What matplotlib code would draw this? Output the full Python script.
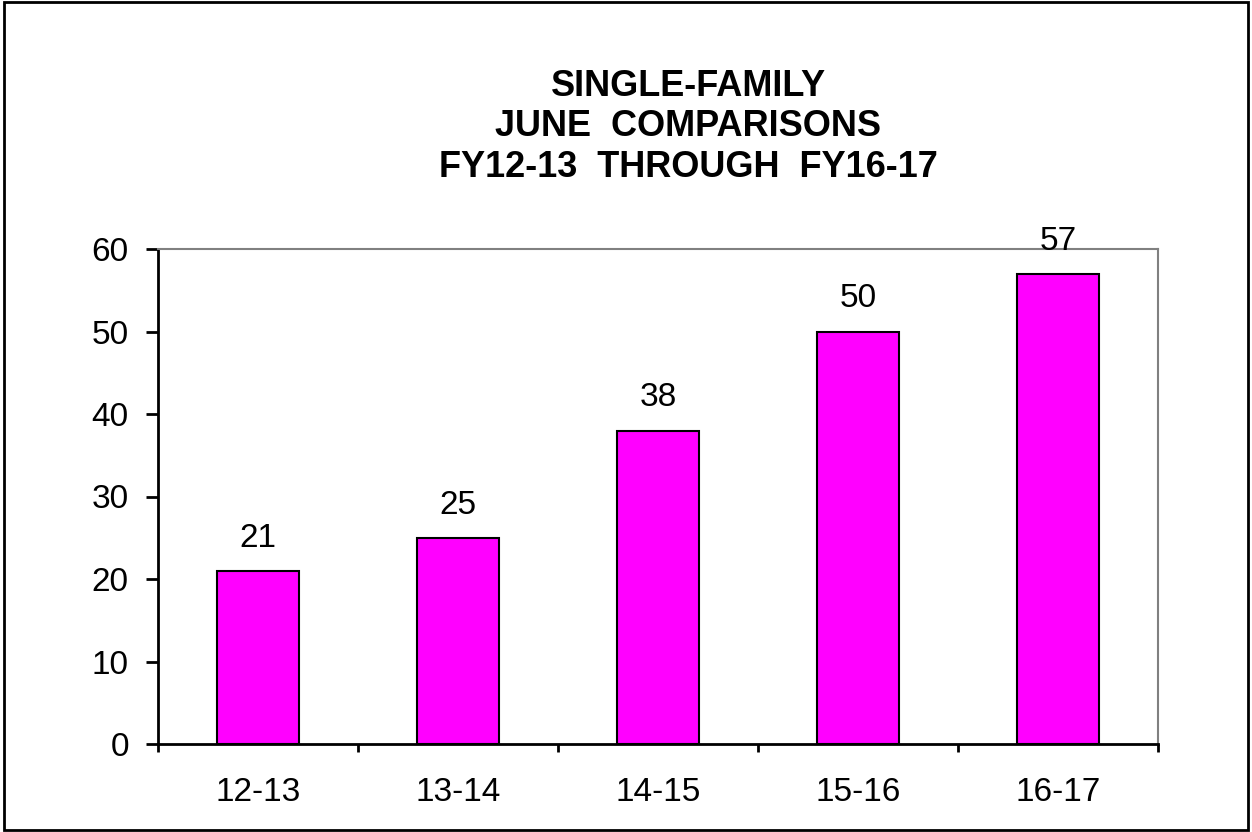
import matplotlib
matplotlib.use("Agg")
import matplotlib.pyplot as plt
from matplotlib.patches import Rectangle
import numpy as np

categories = ["12-13", "13-14", "14-15", "15-16", "16-17"]
values = [21, 25, 38, 50, 57]
title_lines = ["SINGLE-FAMILY", "JUNE  COMPARISONS", "FY12-13  THROUGH  FY16-17"]

plt.rcParams['font.family'] = ['Liberation Sans', 'DejaVu Sans']

fig = plt.figure(figsize=(12.52, 8.32), dpi=100)
ax = fig.add_axes([158/1252, 1-744/832, 1000/1252, (744-249)/832])

x = np.arange(len(categories))
ax.bar(x, values, width=0.41, color='#FF00FF', edgecolor='black', linewidth=1.5, zorder=3)

for xi, v in zip(x, values):
    ax.annotate(str(v), (xi, v), xytext=(0, 17.3), textcoords='offset points',
                ha='center', va='baseline', fontsize=24)

ax.set_xlim(-0.5, len(categories) - 0.5)
ax.set_ylim(0, 60)
ax.set_yticks(np.arange(0, 61, 10))
ax.set_xticks(x)
ax.set_xticklabels(categories)
ax.set_xticks(np.arange(-0.5, len(categories), 1.0), minor=True)

ax.tick_params(axis='y', which='major', length=9, width=2, pad=12, labelsize=24, direction='out')
ax.tick_params(axis='x', which='major', length=0, pad=24, labelsize=24)
ax.tick_params(axis='x', which='minor', length=6, width=2, direction='out')

for s in ['left', 'bottom']:
    ax.spines[s].set_color('black')
    ax.spines[s].set_linewidth(2)
for s in ['top', 'right']:
    ax.spines[s].set_color('#808080')
    ax.spines[s].set_linewidth(1.5)

fig.text(688/1252, 1-127/832, "\n".join(title_lines), ha='center', va='center',
         fontsize=26, fontweight='bold', linespacing=1.22)

fig.patches.append(Rectangle((0.003, 0.003), 0.994, 0.994, transform=fig.transFigure,
                             fill=False, edgecolor='black', linewidth=2))

fig.savefig("out.png", dpi=100)
